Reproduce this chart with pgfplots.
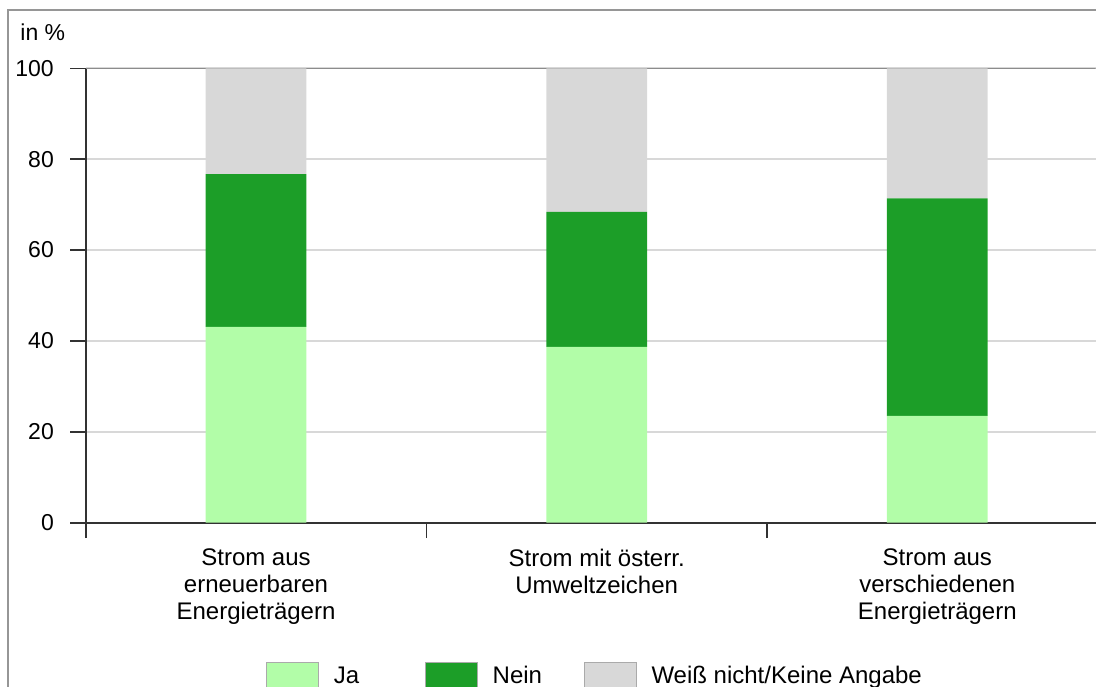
\documentclass[border=0pt]{standalone}
\usepackage{pgfplots}
\pgfplotsset{compat=1.18}
\usepackage{fontspec}
\setmainfont{Liberation Sans}
\definecolor{ja}{RGB}{178,253,168}
\definecolor{nein}{RGB}{28,158,40}
\definecolor{weiss}{RGB}{216,216,216}
\definecolor{axdark}{RGB}{50,50,50}
\begin{document}
\fontsize{11.5}{13.3}\selectfont
\begin{tikzpicture}[x=1pt,y=1pt]
\path[use as bounding box, clip] (0,0) rectangle (548,-343);
\draw[color={rgb,255:red,150;green,150;blue,150}, line width=1pt] (4.15,-5) rectangle (600,-400);
\node[anchor=base west, inner sep=0pt] at (10,-20) {in \%};
\begin{axis}[
  at={(42.85pt,-261.35pt)}, anchor=south west,
  width=505pt, height=227.2pt, scale only axis,
  xmin=-0.5, xmax=2.465, ymin=0, ymax=100,
  ybar stacked, bar width=0.296,
  axis x line=bottom, axis y line=left,
  axis line style={-},
  x axis line style={draw=axdark, line width=1.2pt},
  y axis line style={draw=axdark, line width=0.8pt},
  ytick={0,20,40,60,80,100},
  xtick={-0.5,0.5,1.5}, xticklabels={},
  tick align=outside, major tick length=7.75pt,
  tick style={draw=axdark, line width=0.8pt},
  ymajorgrids, grid style={draw=weiss, line width=0.9pt},
  /pgf/number format/assume math mode=true,
  yticklabel style={font=\fontsize{11.5}{13.3}\selectfont, inner sep=0pt, xshift=-8pt},
  extra x ticks={0,1,2},
  extra x tick labels={{Strom aus\\erneuerbaren\\Energieträgern},{Strom mit österr.\\Umweltzeichen},{Strom aus\\verschiedenen\\Energieträgern}},
  extra x tick style={major tick length=0pt, grid=none,
    tick label style={align=center, anchor=north, inner sep=0pt, yshift=-13pt, font=\fontsize{12}{13.3}\selectfont}},
  legend columns=3,
  legend style={at={(90pt,-69.65pt)}, anchor=north west, draw=none, fill=none, inner sep=0pt,
    font=\fontsize{12}{13.3}\selectfont,
    nodes={inner sep=0pt, anchor=west},
    /tikz/every odd column/.append style={column sep=7.5pt}},
  legend image code/.code={\draw[#1, draw={rgb,255:red,170;green,170;blue,170}, line width=0.4pt] (0pt,-7pt) rectangle (26pt,7pt);},
]
\addplot[fill=ja, draw=none] coordinates {(0,43.1) (1,38.7) (2,23.5)};
\addlegendentry{\makebox[45.5pt][l]{Ja}}
\addplot[fill=nein, draw=none] coordinates {(0,33.6) (1,29.7) (2,47.9)};
\addlegendentry{\makebox[45.5pt][l]{Nein}}
\addplot[fill=weiss, draw=none] coordinates {(0,23.3) (1,31.6) (2,28.6)};
\addlegendentry{Weiß nicht/Keine Angabe}
\draw[color={rgb,255:red,140;green,140;blue,140}, line width=0.8pt] (rel axis cs:0,1) -- (rel axis cs:1,1);
\draw[draw=axdark, line width=1.2pt] (rel axis cs:0,0) -- (rel axis cs:1,0);
\end{axis}
\end{tikzpicture}
\end{document}
